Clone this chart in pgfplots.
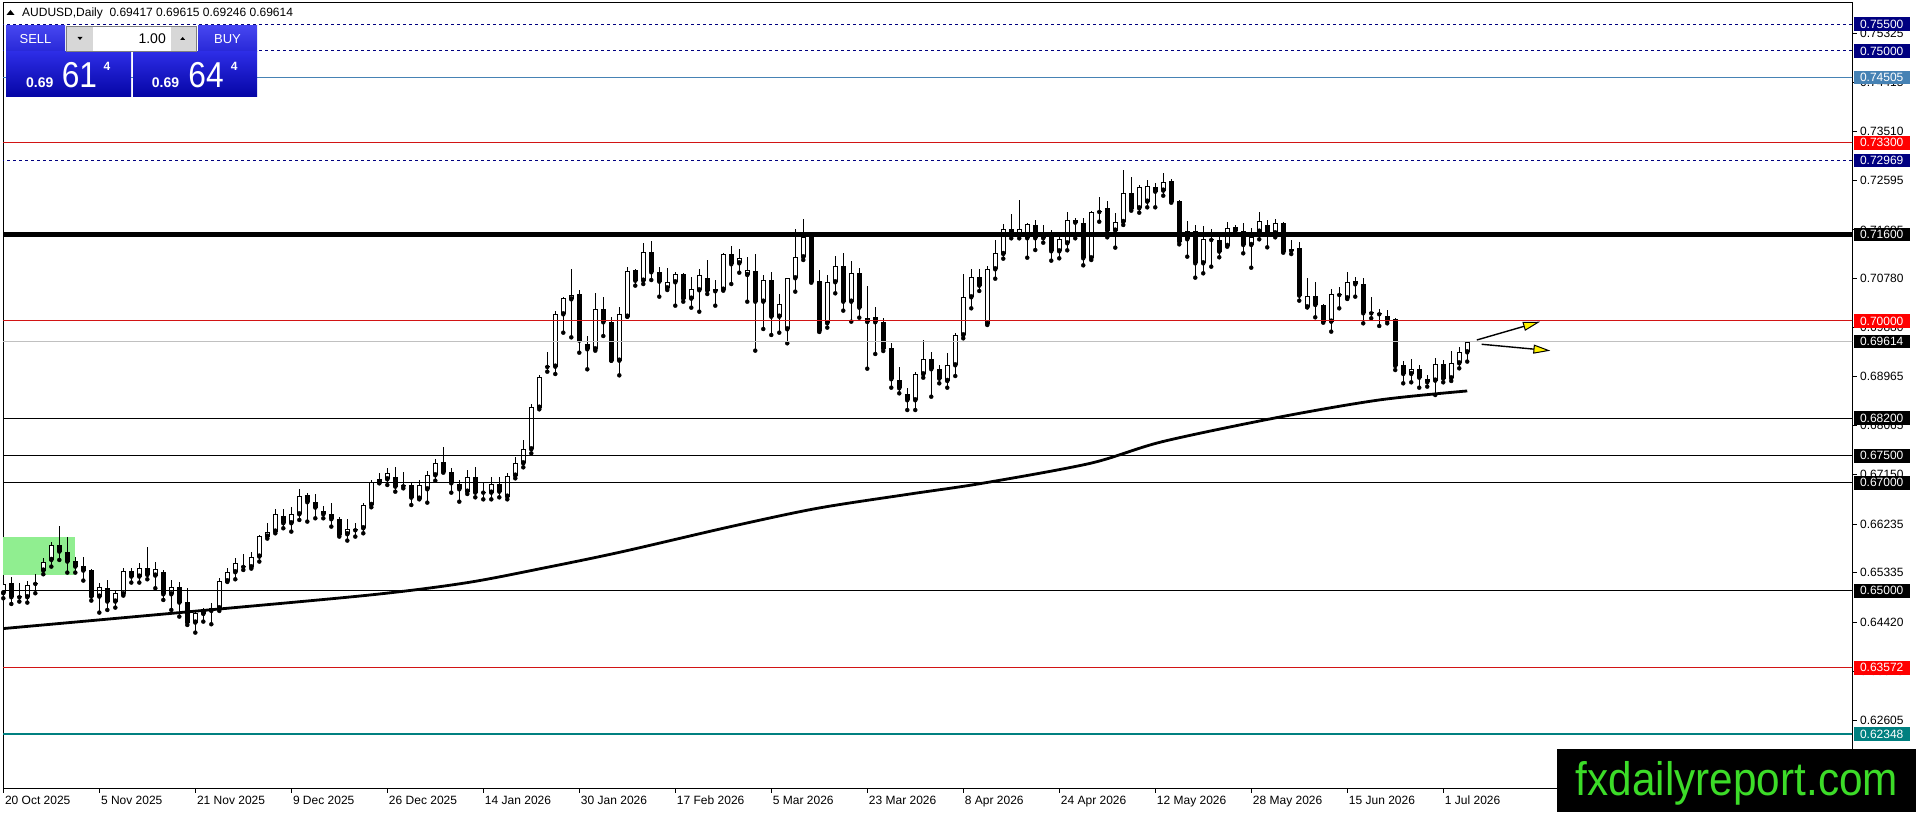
\documentclass[border=0pt]{standalone}
\usepackage{fontspec}
\setmainfont{Liberation Sans}
\usepackage{pgfplots}
\pgfplotsset{compat=1.18}
\usepackage{pgfplotstable}
\usetikzlibrary{arrows.meta}

\definecolor{mtnavy}{RGB}{0,0,128}
\definecolor{mtsteel}{RGB}{70,130,180}
\definecolor{mtred}{RGB}{255,0,0}
\definecolor{linered}{RGB}{210,20,20}
\definecolor{mtteal}{RGB}{0,128,128}
\definecolor{mtgreen}{RGB}{144,238,144}
\definecolor{bidgray}{RGB}{192,192,192}
\definecolor{logogreen}{RGB}{60,220,40}
\definecolor{btntop}{RGB}{70,70,240}
\definecolor{btnbot}{RGB}{40,40,215}
\definecolor{pricetop}{RGB}{45,45,230}
\definecolor{pricebot}{RGB}{5,5,165}
\definecolor{lotgray}{RGB}{215,215,215}

\pgfplotstableread{
i O H L C
0 0.64954 0.65213 0.64861 0.65127
1 0.65139 0.65263 0.64756 0.64880
2 0.64892 0.65139 0.64800 0.64880
3 0.64880 0.65176 0.64781 0.65115
4 0.65127 0.65306 0.64954 0.65145
5 0.65374 0.65602 0.65306 0.65541
6 0.65571 0.65911 0.65448 0.65849
7 0.65849 0.66201 0.65571 0.65726
8 0.65726 0.65991 0.65337 0.65541
9 0.65553 0.65633 0.65337 0.65448
10 0.65460 0.65633 0.65189 0.65374
11 0.65386 0.65399 0.64818 0.64892
12 0.64892 0.65152 0.64596 0.65065
13 0.65047 0.65201 0.64645 0.64800
14 0.64800 0.65016 0.64688 0.64954
15 0.64935 0.65417 0.64911 0.65362
16 0.65362 0.65417 0.65152 0.65263
17 0.65263 0.65510 0.65152 0.65417
18 0.65417 0.65818 0.65213 0.65294
19 0.65281 0.65541 0.65047 0.65399
20 0.65349 0.65386 0.64830 0.64935
21 0.64935 0.65201 0.64645 0.65077
22 0.65077 0.65158 0.64522 0.64781
23 0.64793 0.65047 0.64367 0.64411
24 0.64411 0.64645 0.64225 0.64583
25 0.64571 0.64676 0.64429 0.64633
26 0.64627 0.64769 0.64380 0.64688
27 0.64676 0.65232 0.64627 0.65176
28 0.65176 0.65417 0.65164 0.65343
29 0.65343 0.65602 0.65213 0.65510
30 0.65442 0.65683 0.65386 0.65454
31 0.65436 0.65726 0.65411 0.65633
32 0.65633 0.66035 0.65541 0.66016
33 0.66004 0.66251 0.65967 0.66096
34 0.66096 0.66510 0.66065 0.66417
35 0.66387 0.66510 0.66158 0.66251
36 0.66251 0.66547 0.66096 0.66417
37 0.66417 0.66893 0.66312 0.66763
38 0.66776 0.66806 0.66282 0.66640
39 0.66640 0.66794 0.66343 0.66541
40 0.66479 0.66572 0.66343 0.66417
41 0.66417 0.66621 0.66189 0.66325
42 0.66325 0.66362 0.66004 0.66035
43 0.66047 0.66325 0.65930 0.66140
44 0.66121 0.66263 0.66004 0.66133
45 0.66158 0.66621 0.66065 0.66590
46 0.66590 0.67053 0.66547 0.67023
47 0.67003 0.67188 0.66991 0.67065
48 0.67065 0.67269 0.66960 0.67176
49 0.67102 0.67287 0.66836 0.66929
50 0.66947 0.67195 0.66898 0.66935
51 0.66960 0.67022 0.66589 0.66725
52 0.66707 0.67052 0.66694 0.66960
53 0.66880 0.67225 0.66633 0.67139
54 0.67139 0.67435 0.67040 0.67374
55 0.67380 0.67670 0.67188 0.67207
56 0.67207 0.67269 0.66818 0.66991
57 0.66978 0.67052 0.66651 0.66880
58 0.66836 0.67238 0.66793 0.67102
59 0.67102 0.67287 0.66731 0.66818
60 0.66830 0.67022 0.66694 0.66818
61 0.66818 0.67102 0.66694 0.66978
62 0.66978 0.67102 0.66731 0.66836
63 0.66744 0.67176 0.66694 0.67133
64 0.67133 0.67485 0.67083 0.67361
65 0.67361 0.67793 0.67287 0.67621
66 0.67621 0.68460 0.67546 0.68411
67 0.68392 0.68998 0.68362 0.68967
68 0.69146 0.69424 0.69059 0.69158
69 0.69152 0.70189 0.69016 0.70121
70 0.70121 0.70449 0.69782 0.70418
71 0.70399 0.70961 0.69695 0.70486
72 0.70498 0.70572 0.69411 0.69634
73 0.69566 0.69720 0.69103 0.69473
74 0.69473 0.70523 0.69448 0.70214
75 0.70214 0.70436 0.69720 0.69973
76 0.69973 0.70078 0.69263 0.69263
77 0.69263 0.70251 0.68991 0.70134
78 0.70078 0.71004 0.70078 0.70930
79 0.70943 0.70955 0.70653 0.70745
80 0.70745 0.71449 0.70683 0.71270
81 0.71270 0.71486 0.70757 0.70900
82 0.70900 0.71004 0.70449 0.70727
83 0.70603 0.70974 0.70572 0.70714
84 0.70714 0.70912 0.70282 0.70869
85 0.70869 0.70881 0.70356 0.70412
86 0.70412 0.70819 0.70245 0.70585
87 0.70566 0.70955 0.70171 0.70844
88 0.70788 0.71128 0.70498 0.70560
89 0.70548 0.70757 0.70282 0.70591
90 0.70578 0.71264 0.70560 0.71239
91 0.71239 0.71387 0.70683 0.71048
92 0.71066 0.71326 0.70893 0.71159
93 0.70850 0.71190 0.70356 0.70943
94 0.70924 0.71239 0.69449 0.70356
95 0.70356 0.70850 0.69850 0.70758
96 0.70758 0.70906 0.69739 0.70078
97 0.70078 0.70498 0.69782 0.70307
98 0.69844 0.70789 0.69585 0.70789
99 0.70789 0.71703 0.70542 0.71178
100 0.71178 0.71888 0.71128 0.71548
101 0.71548 0.71622 0.70708 0.70721
102 0.70739 0.70943 0.69795 0.69813
103 0.69955 0.70844 0.69875 0.70715
104 0.70715 0.71202 0.70511 0.71011
105 0.71011 0.71252 0.70190 0.70356
106 0.70356 0.71110 0.69986 0.70881
107 0.70881 0.70986 0.70060 0.70245
108 0.69980 0.70647 0.69115 0.70060
109 0.70066 0.70264 0.69387 0.69974
110 0.69974 0.70048 0.69442 0.69486
111 0.69492 0.69585 0.68763 0.68918
112 0.68905 0.69146 0.68658 0.68751
113 0.68640 0.68763 0.68349 0.68529
114 0.68529 0.69060 0.68349 0.69010
115 0.69010 0.69646 0.68948 0.69288
116 0.69288 0.69430 0.68596 0.69103
117 0.69103 0.69177 0.68843 0.68930
118 0.68887 0.69399 0.68763 0.69177
119 0.69177 0.69782 0.68979 0.69733
120 0.69733 0.70869 0.69677 0.70437
121 0.70437 0.70962 0.70233 0.70819
122 0.70807 0.70962 0.70554 0.70653
123 0.69943 0.71017 0.69924 0.70955
124 0.70955 0.71499 0.70782 0.71252
125 0.71239 0.71795 0.71153 0.71696
126 0.71696 0.71980 0.71530 0.71585
127 0.71591 0.72240 0.71530 0.71696
128 0.71530 0.71820 0.71171 0.71795
129 0.71770 0.71869 0.71313 0.71530
130 0.71530 0.71777 0.71449 0.71573
131 0.71573 0.71684 0.71116 0.71289
132 0.71289 0.71573 0.71159 0.71511
133 0.71437 0.72024 0.71307 0.71863
134 0.71869 0.71912 0.71530 0.71820
135 0.71807 0.71900 0.71029 0.71159
136 0.71159 0.72042 0.71128 0.72024
137 0.72018 0.72289 0.71838 0.72030
138 0.72085 0.72221 0.71548 0.71672
139 0.71672 0.72005 0.71357 0.71832
140 0.71832 0.72795 0.71777 0.72363
141 0.72363 0.72660 0.72042 0.72073
142 0.72085 0.72518 0.72005 0.72474
143 0.72209 0.72610 0.72104 0.72499
144 0.72487 0.72548 0.72104 0.72394
145 0.72413 0.72734 0.72320 0.72579
146 0.72592 0.72623 0.72190 0.72209
147 0.72221 0.72240 0.71418 0.71468
148 0.71511 0.71857 0.71190 0.71672
149 0.71672 0.71777 0.70801 0.71066
150 0.71066 0.71758 0.70881 0.71511
151 0.71499 0.71696 0.71005 0.71505
152 0.71499 0.71591 0.71178 0.71283
153 0.71388 0.71838 0.71375 0.71727
154 0.71733 0.71777 0.71647 0.71672
155 0.71672 0.71820 0.71252 0.71406
156 0.71406 0.71715 0.70986 0.71560
157 0.71653 0.72024 0.71511 0.71851
158 0.71770 0.71869 0.71363 0.71610
159 0.71622 0.71882 0.71548 0.71807
160 0.71820 0.71838 0.71264 0.71283
161 0.71295 0.71499 0.71239 0.71338
162 0.71344 0.71456 0.70375 0.70468
163 0.70251 0.70801 0.70251 0.70461
164 0.70461 0.70715 0.70066 0.70295
165 0.70295 0.70313 0.69967 0.69986
166 0.69986 0.70591 0.69801 0.70492
167 0.70480 0.70634 0.70233 0.70492
168 0.70418 0.70900 0.70406 0.70727
169 0.70739 0.70819 0.70449 0.70677
170 0.70684 0.70789 0.69955 0.70140
171 0.70140 0.70449 0.70048 0.70140
172 0.70122 0.70214 0.69906 0.70122
173 0.70091 0.70202 0.69955 0.70004
174 0.70029 0.70048 0.69090 0.69165
175 0.69183 0.69263 0.68843 0.69016
176 0.69016 0.69288 0.68862 0.69103
177 0.69103 0.69183 0.68763 0.68948
178 0.68918 0.68998 0.68782 0.68862
179 0.68893 0.69307 0.68627 0.69195
180 0.69195 0.69276 0.68862 0.68930
181 0.68936 0.69442 0.68887 0.69214
182 0.69214 0.69523 0.69121 0.69424
183 0.69417 0.69615 0.69246 0.69614
}\candles

\pgfplotstableread{
i ma
0 0.64300
23.4 0.64614
45.9 0.64923
58 0.65151
68.4 0.65447
77.4 0.65725
90.9 0.66188
101.8 0.66529
113.4 0.66794
122.4 0.66992
135.9 0.67362
144.9 0.67763
159.4 0.68214
172 0.68535
183 0.68702
}\madata

\tikzset{pbox/.style={anchor=west, xshift=1.5pt, minimum width=56pt, minimum height=13.5pt, inner sep=0pt, text=white, font=\fontsize{12}{12}\selectfont}}

\begin{document}
\begin{tikzpicture}[x=1pt,y=1pt]
\useasboundingbox (0,0) rectangle (1916,812);
\fill[white] (0,0) rectangle (1916,812);
\begin{axis}[
  at={(3pt,23.5pt)}, anchor=south west,
  scale only axis, width=1849pt, height=785.8pt,
  xmin=-0.04, xmax=231.1, ymin=0.61337, ymax=0.75895,
  axis line style={line width=1pt},
  tick style={black, line width=1pt},
  tick align=outside, major tick length=4.5pt,
  xtick pos=bottom, ytick pos=right, yticklabel pos=right,
  xtick={0,12,...,180},
  xticklabels={20 Oct 2025, 5 Nov 2025, 21 Nov 2025, 9 Dec 2025, 26 Dec 2025, 14 Jan 2026, 30 Jan 2026, 17 Feb 2026, 5 Mar 2026, 23 Mar 2026, 8 Apr 2026, 24 Apr 2026, 12 May 2026, 28 May 2026, 15 Jun 2026, 1 Jul 2026},
  ytick={0.75325,0.74415,0.73510,0.72595,0.71685,0.70780,0.69880,0.68965,0.68065,0.67150,0.66235,0.65335,0.64420,0.63510,0.62605},
  yticklabels={0.75325,0.74415,0.73510,0.72595,0.71685,0.70780,0.69880,0.68965,0.68065,0.67150,0.66235,0.65335,0.64420,0.63510,0.62605},
  tick label style={font=\fontsize{12}{12}\selectfont, inner sep=0pt},
  xticklabel style={anchor=north west, xshift=1.5pt, yshift=-3pt},
  yticklabel style={anchor=west, xshift=3.5pt},
  clip mode=individual,
]
% green zone
\addplot[fill=mtgreen, draw=none, forget plot] coordinates {(-0.04,0.65293) (9,0.65293) (9,0.66004) (-0.04,0.66004)} -- cycle;

% wicks
\addplot[only marks, mark=none, forget plot,
  error bars/.cd, y dir=plus, y explicit, error mark=none,
  error bar style={draw=black, line width=1pt}]
  table[x=i, y=L, y error expr=\thisrow{H}-\thisrow{L}] {\candles};
% bodies
\addplot[only marks, mark=none, forget plot,
  error bars/.cd, y dir=plus, y explicit, error mark=none,
  error bar style={draw=black, line width=5pt}]
  table[x=i, y expr={min(\thisrow{O},\thisrow{C})}, y error expr={max(abs(\thisrow{C}-\thisrow{O}),0.00019)}] {\candles};
\addplot[only marks, mark=none, forget plot,
  error bars/.cd, y dir=plus, y explicit, error mark=none,
  error bar style={draw=white, line width=3pt}]
  table[x=i, y expr={(\thisrow{C}-\thisrow{O}>0.00045) ? (\thisrow{O}+0.000185) : 0.5}, y error expr={(\thisrow{C}-\thisrow{O}>0.00045) ? (\thisrow{C}-\thisrow{O}-0.00037) : 0.0001}] {\candles};

% horizontal levels
\addplot[mtnavy, line width=1pt, dash pattern=on 3pt off 3pt, forget plot] coordinates {(-1,0.755) (232,0.755)};
\addplot[mtnavy, line width=1pt, dash pattern=on 3pt off 3pt, forget plot] coordinates {(-1,0.750) (232,0.750)};
\addplot[mtsteel, line width=1pt, forget plot] coordinates {(-1,0.74505) (232,0.74505)};
\addplot[linered, line width=1pt, forget plot] coordinates {(-1,0.733) (232,0.733)};
\addplot[mtnavy, line width=1pt, dash pattern=on 3pt off 3pt, forget plot] coordinates {(-1,0.72969) (232,0.72969)};
\addplot[black, line width=4.5pt, forget plot] coordinates {(-1,0.716) (232,0.716)};
\addplot[linered, line width=1pt, forget plot] coordinates {(-1,0.700) (232,0.700)};
\addplot[bidgray, line width=1pt, forget plot] coordinates {(-1,0.69614) (232,0.69614)};
\addplot[black, line width=1pt, forget plot] coordinates {(-1,0.682) (232,0.682)};
\addplot[black, line width=1pt, forget plot] coordinates {(-1,0.675) (232,0.675)};
\addplot[black, line width=1pt, forget plot] coordinates {(-1,0.670) (232,0.670)};
\addplot[black, line width=1pt, forget plot] coordinates {(-1,0.650) (232,0.650)};
\addplot[linered, line width=1pt, forget plot] coordinates {(-1,0.63572) (232,0.63572)};
\addplot[mtteal, line width=2pt, forget plot] coordinates {(-1,0.62348) (232,0.62348)};

% moving average
\addplot[black, line width=2.8pt, line join=round, smooth, tension=0.5, forget plot] table[x=i, y=ma] {\madata};

% arrows
\addplot[black, line width=1.4pt, forget plot, -{Triangle[length=17pt, width=9pt, fill=yellow, line width=1pt]}] coordinates {(184.2,0.69646) (192.1,0.69985)};
\addplot[black, line width=1.4pt, forget plot, -{Triangle[length=17pt, width=9pt, fill=yellow, line width=1pt]}] coordinates {(184.8,0.69567) (193.4,0.69448)};

\coordinate (q1) at (axis cs:231.1,0.755);
\coordinate (q2) at (axis cs:231.1,0.750);
\coordinate (q3) at (axis cs:231.1,0.74505);
\coordinate (q4) at (axis cs:231.1,0.733);
\coordinate (q5) at (axis cs:231.1,0.72969);
\coordinate (q6) at (axis cs:231.1,0.716);
\coordinate (q7) at (axis cs:231.1,0.700);
\coordinate (q8) at (axis cs:231.1,0.69614);
\coordinate (q9) at (axis cs:231.1,0.682);
\coordinate (q10) at (axis cs:231.1,0.675);
\coordinate (q11) at (axis cs:231.1,0.670);
\coordinate (q12) at (axis cs:231.1,0.650);
\coordinate (q13) at (axis cs:231.1,0.63572);
\coordinate (q14) at (axis cs:231.1,0.62348);
\end{axis}

% price boxes
\node[pbox, fill=mtnavy] at (q1) {0.75500};
\node[pbox, fill=mtnavy] at (q2) {0.75000};
\node[pbox, fill=mtsteel] at (q3) {0.74505};
\node[pbox, fill=mtred] at (q4) {0.73300};
\node[pbox, fill=mtnavy] at (q5) {0.72969};
\node[pbox, fill=black] at (q6) {0.71600};
\node[pbox, fill=mtred] at (q7) {0.70000};
\node[pbox, fill=black] at (q8) {0.69614};
\node[pbox, fill=black] at (q9) {0.68200};
\node[pbox, fill=black] at (q10) {0.67500};
\node[pbox, fill=black] at (q11) {0.67000};
\node[pbox, fill=black] at (q12) {0.65000};
\node[pbox, fill=mtred] at (q13) {0.63572};
\node[pbox, fill=mtteal] at (q14) {0.62348};

% title
\fill[black] (6.5,797) -- (14.5,797) -- (10.5,802) -- cycle;
\node[anchor=base west, inner sep=0pt, font=\fontsize{12}{12}\selectfont] at (22,795) {AUDUSD,Daily\ \ 0.69417 0.69615 0.69246 0.69614};

% trade panel
\shade[top color=btntop, bottom color=btnbot] (6,760.3) rectangle (65,786);
\shade[top color=btntop, bottom color=btnbot] (198,760.3) rectangle (257,786);
\draw[white!70!blue, line width=0.8pt] (10,761) -- (62,761);
\draw[white!70!blue, line width=0.8pt] (201,761) -- (253,761);
\shade[top color=pricetop, bottom color=pricebot] (6,715.3) rectangle (131,760.3);
\shade[top color=pricetop, bottom color=pricebot] (133,715.3) rectangle (257,760.3);
\fill[lotgray] (66.7,760.3) rectangle (196.7,786);
\fill[white] (92.7,761) rectangle (170.7,785.3);
\draw[gray, line width=0.6pt] (66.7,760.3) rectangle (196.7,786);
\fill[black] (77.5,775) -- (82.5,775) -- (80,772) -- cycle;
\fill[black] (180.2,772) -- (185.2,772) -- (182.7,775) -- cycle;
\node[anchor=base, text=white, inner sep=0pt, font=\fontsize{13}{13}\selectfont] at (35.5,768.5) {SELL};
\node[anchor=base, text=white, inner sep=0pt, font=\fontsize{13}{13}\selectfont] at (227.5,768.5) {BUY};
\node[anchor=base east, inner sep=0pt, font=\fontsize{14}{14}\selectfont] at (166,768.5) {1.00};
\node[anchor=base west, text=white, inner sep=0pt, font=\bfseries\fontsize{14}{14}\selectfont] at (26,724.7) {0.69};
\node[anchor=base west, text=white, inner sep=0pt, xscale=0.88, font=\fontsize{36}{36}\selectfont] at (61.7,724.7) {61};
\node[anchor=north west, text=white, inner sep=0pt, font=\bfseries\fontsize{12}{12}\selectfont] at (103.3,750.3) {4};
\node[anchor=base west, text=white, inner sep=0pt, font=\bfseries\fontsize{14}{14}\selectfont] at (151.7,724.7) {0.69};
\node[anchor=base west, text=white, inner sep=0pt, xscale=0.88, font=\fontsize{36}{36}\selectfont] at (188.3,724.7) {64};
\node[anchor=north west, text=white, inner sep=0pt, font=\bfseries\fontsize{12}{12}\selectfont] at (230.7,750.3) {4};

% logo
\fill[black] (1557,0) rectangle (1916,63);
\node[anchor=base, inner sep=0pt, text=logogreen, xscale=0.9, font=\fontsize{47}{47}\selectfont] at (1737,17) {fxdailyreport.com};
\end{tikzpicture}
\end{document}
